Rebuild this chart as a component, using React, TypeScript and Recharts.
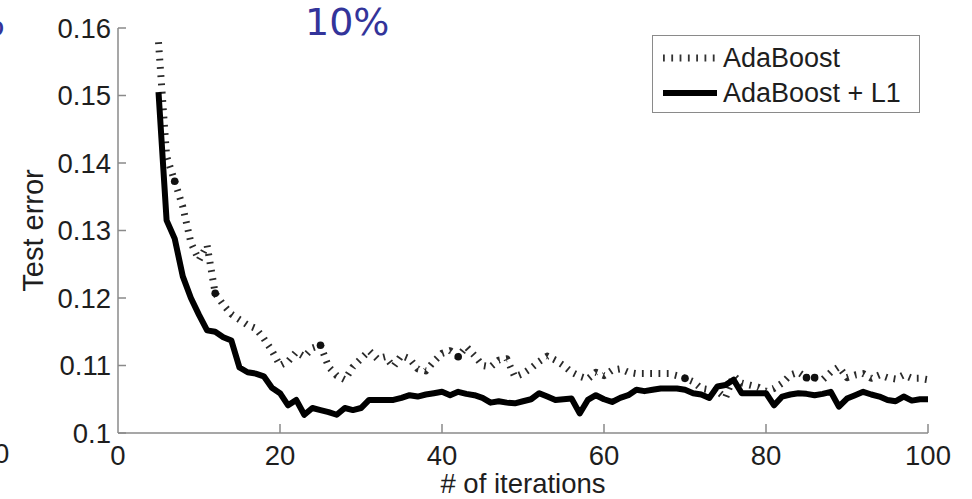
import { LineChart, Line, XAxis, YAxis } from "recharts"

// test error vs. boosting iterations
const iterations = [
  5, 6, 7, 8, 9, 10, 11, 12, 13, 14, 15, 16, 17, 18, 19, 20, 21, 22, 23, 24,
  25, 26, 27, 28, 29, 30, 31, 32, 33, 34, 35, 36, 37, 38, 39, 40, 41, 42, 43, 44,
  45, 46, 47, 48, 49, 50, 51, 52, 53, 54, 55, 56, 57, 58, 59, 60, 61, 62, 63, 64,
  65, 66, 67, 68, 69, 70, 71, 72, 73, 74, 75, 76, 77, 78, 79, 80, 81, 82, 83, 84,
  85, 86, 87, 88, 89, 90, 91, 92, 93, 94, 95, 96, 97, 98, 99, 100,
]

const adaBoost = [
  0.1579, 0.1410, 0.1373, 0.1335, 0.1282, 0.1256, 0.1278, 0.1207, 0.1190, 0.1176,
  0.1168, 0.1160, 0.1155, 0.1140, 0.1122, 0.1100, 0.1106, 0.1120, 0.1113, 0.1126,
  0.1130, 0.1098, 0.1085, 0.1079, 0.1098, 0.1110, 0.1122, 0.1110, 0.1113, 0.1098,
  0.1115, 0.1110, 0.1095, 0.1092, 0.1106, 0.1118, 0.1122, 0.1113, 0.1128, 0.1115,
  0.1100, 0.1098, 0.1108, 0.1110, 0.1083, 0.1088, 0.1096, 0.1106, 0.1114, 0.1108,
  0.1100, 0.1090, 0.1084, 0.1080, 0.1090, 0.1085, 0.1093, 0.1095, 0.1090, 0.1088,
  0.1088, 0.1088, 0.1088, 0.1088, 0.1085, 0.1081, 0.1076, 0.1066, 0.1064, 0.1062,
  0.1052, 0.1085, 0.1074, 0.1071, 0.1068, 0.1062, 0.1066, 0.1074, 0.1086, 0.1090,
  0.1082, 0.1082, 0.1079, 0.1090, 0.1098, 0.1082, 0.1086, 0.1088, 0.1081, 0.1086,
  0.1082, 0.1080, 0.1086, 0.1081, 0.1081, 0.1079,
]

const adaBoostL1 = [
  0.1505, 0.1315, 0.1288, 0.1232, 0.1200, 0.1175, 0.1152, 0.1150, 0.1142, 0.1137,
  0.1097, 0.1090, 0.1088, 0.1084, 0.1067, 0.1059, 0.1041, 0.1049, 0.1027, 0.1037,
  0.1034, 0.1031, 0.1027, 0.1037, 0.1034, 0.1037, 0.1049, 0.1049, 0.1049, 0.1049,
  0.1052, 0.1056, 0.1054, 0.1057, 0.1059, 0.1061, 0.1056, 0.1061, 0.1058, 0.1056,
  0.1052, 0.1045, 0.1047, 0.1045, 0.1044, 0.1047, 0.1050, 0.1059, 0.1054, 0.1049,
  0.1050, 0.1051, 0.1029, 0.1049, 0.1056, 0.1050, 0.1046, 0.1052, 0.1056, 0.1064,
  0.1062, 0.1064, 0.1066, 0.1066, 0.1066, 0.1064, 0.1059, 0.1057, 0.1052, 0.1069,
  0.1071, 0.1079, 0.1059, 0.1059, 0.1059, 0.1059, 0.1041, 0.1054, 0.1057, 0.1059,
  0.1058, 0.1056, 0.1058, 0.1061, 0.1039, 0.1051, 0.1056, 0.1061, 0.1057, 0.1054,
  0.1049, 0.1047, 0.1054, 0.1048, 0.1050, 0.1050,
]

// iterations marked with a black dot on the AdaBoost curve
const markedIterations = [7, 12, 25, 42, 70, 85, 86]

const xTicks = [0, 20, 40, 60, 80, 100]
const yTicks = [0.1, 0.11, 0.12, 0.13, 0.14, 0.15, 0.16]
const yTickLabels = ["0.1", "0.11", "0.12", "0.13", "0.14", "0.15", "0.16"]
const seriesNames = ["AdaBoost", "AdaBoost + L1"]
const panelTitle = "10%"

const data = iterations.map((iter, i) => ({
  iter,
  ada: adaBoost[i],
  l1: adaBoostL1[i],
}))

const FONT = "'Liberation Sans', Arial, sans-serif"
const AXIS_X = 118
const AXIS_Y = 433
const AXIS_COLOR = "#8a8a8a"
const TEXT_COLOR = "#1e1e1e"
const TICK_SIZE = 27.5

const XTick = (props: any) => {
  const { x, payload } = props
  return (
    <g>
      {payload.value !== 0 && (
        <line x1={x} x2={x} y1={AXIS_Y} y2={AXIS_Y - 9} stroke={AXIS_COLOR} strokeWidth={1.5} />
      )}
      <text x={x} y={455} textAnchor="middle" dominantBaseline="central"
        fontFamily={FONT} fontSize={TICK_SIZE} fill={TEXT_COLOR}>
        {payload.value}
      </text>
    </g>
  )
}

const YTick = (props: any) => {
  const { y, payload } = props
  const label = yTickLabels[yTicks.indexOf(payload.value)] ?? String(payload.value)
  return (
    <g>
      <line x1={AXIS_X} x2={AXIS_X + 8} y1={y} y2={y} stroke={AXIS_COLOR} strokeWidth={1.5} />
      <text x={AXIS_X - 7} y={y} textAnchor="end" dominantBaseline="central"
        fontFamily={FONT} fontSize={TICK_SIZE} fill={TEXT_COLOR}>
        {label}
      </text>
    </g>
  )
}

// legend box in the top right corner of the axes
const LegendBox = () => (
  <div style={{
    position: "absolute", left: 652, top: 35, width: 268, height: 78, boxSizing: "border-box",
    border: `1.5px solid ${AXIS_COLOR}`, background: "#fff", fontFamily: FONT,
    fontSize: 27, color: TEXT_COLOR, zIndex: 2,
  }}>
    <svg width={64} height={78} style={{ position: "absolute", left: 0, top: 0 }}>
      <line x1={10} x2={62} y1={22} y2={22} stroke="#333" strokeWidth={7} strokeDasharray="1.8 6.5" />
      <line x1={10} x2={65} y1={57} y2={57} stroke="#000" strokeWidth={6} />
    </svg>
    <div style={{ position: "absolute", left: 70, top: 22, transform: "translateY(-50%)", lineHeight: 1 }}>
      {seriesNames[0]}
    </div>
    <div style={{ position: "absolute", left: 70, top: 57, transform: "translateY(-50%)", lineHeight: 1 }}>
      {seriesNames[1]}
    </div>
  </div>
)

export default function App() {
  return (
    <div style={{
      position: "absolute", left: 0, top: 0, width: 972, height: 499,
      background: "#fff", overflow: "hidden",
    }}>
      {/* neighbouring panels, cut off at the edge */}
      <div style={{
        position: "absolute", right: 967, top: 3, fontFamily: "'DejaVu Sans', sans-serif",
        fontSize: 38, color: "#33349a", lineHeight: 1,
      }}>%</div>
      <div style={{
        position: "absolute", left: -6, top: 440, fontFamily: FONT,
        fontSize: TICK_SIZE, color: TEXT_COLOR, lineHeight: 1,
      }}>0</div>

      <div style={{
        position: "absolute", left: 305, top: 3, fontFamily: "'DejaVu Sans', sans-serif",
        fontSize: 38, color: "#33349a", lineHeight: 1,
      }}>{panelTitle}</div>

      <LineChart width={972} height={499} data={data}
        margin={{ top: 28, right: 44, bottom: 0, left: 0 }}>
        <XAxis
          dataKey="iter"
          type="number"
          domain={[0, 100]}
          ticks={xTicks}
          interval={0}
          height={66}
          tickLine={false}
          axisLine={{ stroke: AXIS_COLOR, strokeWidth: 1.5 }}
          tick={(p: any) => <XTick {...p} />}
          label={{
            value: "# of iterations", position: "insideBottom", offset: 6,
            style: { fontFamily: FONT, fontSize: 27.5, fill: TEXT_COLOR },
          }}
        />
        <YAxis
          type="number"
          domain={[0.1, 0.16]}
          ticks={yTicks}
          interval={0}
          width={118}
          tickLine={false}
          axisLine={{ stroke: AXIS_COLOR, strokeWidth: 1.5 }}
          tick={(p: any) => <YTick {...p} />}
          label={{
            value: "Test error", angle: -90, position: "insideLeft", offset: 33,
            style: { textAnchor: "middle", fontFamily: FONT, fontSize: 29, fill: TEXT_COLOR },
          }}
        />
        <Line
          type="linear"
          dataKey="ada"
          name={seriesNames[0]}
          stroke="#2a2a2a"
          strokeWidth={7}
          strokeDasharray="1.8 6.5"
          strokeLinejoin="round"
          isAnimationActive={false}
          activeDot={false}
          dot={(p: any) =>
            markedIterations.includes(p.payload.iter)
              ? <circle key={`m${p.index}`} cx={p.cx} cy={p.cy} r={3.8} fill="#111" stroke="none" />
              : <g key={`m${p.index}`} />
          }
        />
        <Line
          type="linear"
          dataKey="l1"
          name={seriesNames[1]}
          stroke="#000"
          strokeWidth={6}
          strokeLinejoin="round"
          dot={false}
          activeDot={false}
          isAnimationActive={false}
        />
      </LineChart>
      <LegendBox />
    </div>
  )
}
